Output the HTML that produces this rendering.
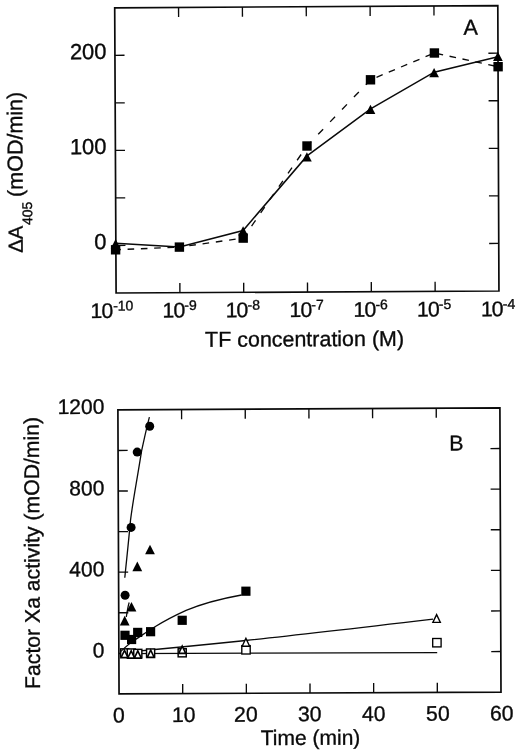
<!DOCTYPE html>
<html lang="en"><head><meta charset="utf-8"><title>Figure</title>
<style>
html,body{margin:0;padding:0;background:#fff;}
body{width:520px;height:753px;overflow:hidden;}
svg{display:block;}
svg text{font-family:"Liberation Sans",sans-serif;fill:#0a0a0a;}
</style></head><body>
<svg width="520" height="753" viewBox="0 0 520 753" stroke="#000" stroke-linecap="butt">
<rect x="0" y="0" width="520" height="753" fill="#fff" stroke="none"/>
<g stroke="#0a0a0a">
<polygon points="114.7,7.8 497.8,5.6 498.95,291 116.1,293" fill="none" stroke-width="1.7" stroke-linejoin="miter"/>
<line x1="178.55" y1="7.43" x2="178.6" y2="17.03" stroke-width="1.35" />
<line x1="179.91" y1="292.67" x2="179.86" y2="283.07" stroke-width="1.35" />
<line x1="242.4" y1="7.07" x2="242.44" y2="16.67" stroke-width="1.35" />
<line x1="243.72" y1="292.33" x2="243.67" y2="282.73" stroke-width="1.35" />
<line x1="306.25" y1="6.7" x2="306.29" y2="16.3" stroke-width="1.35" />
<line x1="307.52" y1="292" x2="307.48" y2="282.4" stroke-width="1.35" />
<line x1="370.1" y1="6.33" x2="370.14" y2="15.94" stroke-width="1.35" />
<line x1="371.33" y1="291.67" x2="371.29" y2="282.06" stroke-width="1.35" />
<line x1="433.95" y1="5.97" x2="433.99" y2="15.57" stroke-width="1.35" />
<line x1="435.14" y1="291.33" x2="435.1" y2="281.73" stroke-width="1.35" />
<line x1="114.93" y1="55.33" x2="124.53" y2="55.28" stroke-width="1.35" />
<line x1="497.99" y1="53.17" x2="488.39" y2="53.22" stroke-width="1.35" />
<line x1="115.17" y1="102.87" x2="124.76" y2="102.81" stroke-width="1.35" />
<line x1="498.18" y1="100.73" x2="488.59" y2="100.79" stroke-width="1.35" />
<line x1="115.4" y1="150.4" x2="125" y2="150.35" stroke-width="1.35" />
<line x1="498.38" y1="148.3" x2="488.78" y2="148.35" stroke-width="1.35" />
<line x1="115.63" y1="197.93" x2="125.23" y2="197.88" stroke-width="1.35" />
<line x1="498.57" y1="195.87" x2="488.97" y2="195.92" stroke-width="1.35" />
<line x1="115.87" y1="245.47" x2="125.46" y2="245.42" stroke-width="1.35" />
<line x1="498.76" y1="243.43" x2="489.16" y2="243.48" stroke-width="1.35" />
<polyline fill="none" stroke-width="1.5" points="115.6,243.3 179.5,247 243.1,230.5 307,155.9 370.6,108.8 434.2,72.2 497.9,56.8"/>
<line x1="115.6" y1="249.8" x2="179.4" y2="247.1" stroke-width="1.35" stroke-dasharray="6.6 6.7" stroke-dashoffset="1.3"/>
<line x1="179.4" y1="247.1" x2="243.2" y2="238.1" stroke-width="1.35" stroke-dasharray="6.6 6.8" stroke-dashoffset="3.4"/>
<line x1="243.2" y1="238.1" x2="307" y2="146" stroke-width="1.35" stroke-dasharray="7 9" stroke-dashoffset="1.3"/>
<line x1="307" y1="146" x2="370.5" y2="79.8" stroke-width="1.35" stroke-dasharray="7.1 10.1" stroke-dashoffset="1.0"/>
<line x1="370.5" y1="79.8" x2="434.4" y2="53" stroke-width="1.35" stroke-dasharray="6.7 6.6" stroke-dashoffset="6.8"/>
<line x1="434.4" y1="53" x2="498.1" y2="66.7" stroke-width="1.35" stroke-dasharray="6.6 6.6" stroke-dashoffset="10.9"/>
<polygon points="115.6,239.1 120.45,248.4 110.75,248.4" fill="#000" stroke="none"/>
<polygon points="243.1,226.25 247.95,235.55 238.25,235.55" fill="#000" stroke="none"/>
<polygon points="306.9,152.3 311.75,161.6 302.05,161.6" fill="#000" stroke="none"/>
<polygon points="370.5,104.7 375.35,114 365.65,114" fill="#000" stroke="none"/>
<polygon points="434.1,67.9 438.95,77.2 429.25,77.2" fill="#000" stroke="none"/>
<polygon points="497.9,51.7 502.75,61 493.05,61" fill="#000" stroke="none"/>
<rect x="110.9" y="245.1" width="9.4" height="9.4" fill="#000" stroke="none"/>
<rect x="174.7" y="242.4" width="9.4" height="9.4" fill="#000" stroke="none"/>
<rect x="238.5" y="233.4" width="9.4" height="9.4" fill="#000" stroke="none"/>
<rect x="302.3" y="141.3" width="9.4" height="9.4" fill="#000" stroke="none"/>
<rect x="365.8" y="75.1" width="9.4" height="9.4" fill="#000" stroke="none"/>
<rect x="429.7" y="48.3" width="9.4" height="9.4" fill="#000" stroke="none"/>
<rect x="493.4" y="62" width="9.4" height="9.4" fill="#000" stroke="none"/>
<text stroke="#0a0a0a" stroke-width="0.35" x="106.6" y="59" font-size="22" text-anchor="end" transform="rotate(-0.3 106.6 59)" >200</text>
<text stroke="#0a0a0a" stroke-width="0.35" x="106.6" y="154" font-size="22" text-anchor="end" transform="rotate(-0.3 106.6 154)" >100</text>
<text stroke="#0a0a0a" stroke-width="0.35" x="106.6" y="249.3" font-size="22" text-anchor="end" transform="rotate(-0.3 106.6 249.3)" >0</text>
<text stroke="#0a0a0a" stroke-width="0.35" x="90.5" y="318.1" font-size="21.2" text-anchor="start" transform="rotate(-0.3 90.5 318.1)" ><tspan letter-spacing="-0.9">10</tspan><tspan font-size="14" dy="-7.4" dx="0.9">-10</tspan></text>
<text stroke="#0a0a0a" stroke-width="0.35" x="162.5" y="317.6" font-size="21.2" text-anchor="start" transform="rotate(-0.3 162.5 317.6)" ><tspan letter-spacing="-0.9">10</tspan><tspan font-size="14" dy="-7.4" dx="0.1">-9</tspan></text>
<text stroke="#0a0a0a" stroke-width="0.35" x="225.7" y="317.2" font-size="21.2" text-anchor="start" transform="rotate(-0.3 225.7 317.2)" ><tspan letter-spacing="-0.9">10</tspan><tspan font-size="14" dy="-7.4" dx="0.1">-8</tspan></text>
<text stroke="#0a0a0a" stroke-width="0.35" x="289.5" y="317" font-size="21.2" text-anchor="start" transform="rotate(-0.3 289.5 317)" ><tspan letter-spacing="-0.9">10</tspan><tspan font-size="14" dy="-7.4" dx="0.1">-7</tspan></text>
<text stroke="#0a0a0a" stroke-width="0.35" x="353.6" y="316.8" font-size="21.2" text-anchor="start" transform="rotate(-0.3 353.6 316.8)" ><tspan letter-spacing="-0.9">10</tspan><tspan font-size="14" dy="-7.4" dx="0.1">-6</tspan></text>
<text stroke="#0a0a0a" stroke-width="0.35" x="417" y="316.5" font-size="21.2" text-anchor="start" transform="rotate(-0.3 417 316.5)" ><tspan letter-spacing="-0.9">10</tspan><tspan font-size="14" dy="-7.4" dx="0.1">-5</tspan></text>
<text stroke="#0a0a0a" stroke-width="0.35" x="480.9" y="316.2" font-size="21.2" text-anchor="start" transform="rotate(-0.3 480.9 316.2)" ><tspan letter-spacing="-0.9">10</tspan><tspan font-size="14" dy="-7.4" dx="0.1">-4</tspan></text>
<text stroke="#0a0a0a" stroke-width="0.35" x="205.1" y="346.8" font-size="21.45" text-anchor="start" transform="rotate(-0.3 205.1 346.8)" >TF concentration (M)</text>
<text stroke="#0a0a0a" stroke-width="0.35" x="463.5" y="34.8" font-size="21.6" text-anchor="start" transform="rotate(-0.3 463.5 34.8)" >A</text>
<text stroke="#0a0a0a" stroke-width="0.35" x="22.7" y="252.8" font-size="20.4" transform="rotate(-90.3 22.7 252.8)">ΔA</text>
<text stroke="#0a0a0a" stroke-width="0.35" x="32.2" y="225.1" font-size="14.0" transform="rotate(-90.3 32.2 225.1)">405</text>
<text stroke="#0a0a0a" stroke-width="0.35" x="22.7" y="196.9" font-size="21.5" transform="rotate(-90.3 22.7 196.9)">(mOD/min)</text>
<polygon points="117.9,409.9 499.9,407.9 501,692.1 119.05,693.9" fill="none" stroke-width="1.7" stroke-linejoin="miter"/>
<line x1="181.57" y1="409.57" x2="181.61" y2="419.17" stroke-width="1.35" />
<line x1="182.71" y1="693.6" x2="182.67" y2="684" stroke-width="1.35" />
<line x1="245.23" y1="409.23" x2="245.27" y2="418.84" stroke-width="1.35" />
<line x1="246.37" y1="693.3" x2="246.33" y2="683.7" stroke-width="1.35" />
<line x1="308.9" y1="408.9" x2="308.94" y2="418.5" stroke-width="1.35" />
<line x1="310.02" y1="693" x2="309.99" y2="683.4" stroke-width="1.35" />
<line x1="372.57" y1="408.57" x2="372.6" y2="418.17" stroke-width="1.35" />
<line x1="373.68" y1="692.7" x2="373.65" y2="683.1" stroke-width="1.35" />
<line x1="436.23" y1="408.23" x2="436.27" y2="417.84" stroke-width="1.35" />
<line x1="437.34" y1="692.4" x2="437.3" y2="682.79" stroke-width="1.35" />
<line x1="118.06" y1="450.47" x2="127.66" y2="450.42" stroke-width="1.35" />
<line x1="500.06" y1="448.5" x2="490.46" y2="448.55" stroke-width="1.35" />
<line x1="118.23" y1="491.04" x2="127.83" y2="490.99" stroke-width="1.35" />
<line x1="500.21" y1="489.1" x2="490.61" y2="489.15" stroke-width="1.35" />
<line x1="118.39" y1="531.61" x2="127.99" y2="531.57" stroke-width="1.35" />
<line x1="500.37" y1="529.7" x2="490.77" y2="529.75" stroke-width="1.35" />
<line x1="118.56" y1="572.19" x2="128.16" y2="572.14" stroke-width="1.35" />
<line x1="500.53" y1="570.3" x2="490.93" y2="570.35" stroke-width="1.35" />
<line x1="118.72" y1="612.76" x2="128.32" y2="612.71" stroke-width="1.35" />
<line x1="500.69" y1="610.9" x2="491.09" y2="610.95" stroke-width="1.35" />
<line x1="118.89" y1="653.33" x2="128.48" y2="653.28" stroke-width="1.35" />
<line x1="500.84" y1="651.5" x2="491.24" y2="651.55" stroke-width="1.35" />
<path fill="none" stroke-width="1.3" d="M124.8,577.7 C126.5,560 128,548 130.5,520.4 C133,500 136,486 141.6,450.8 C144,440 146.5,428 149.4,417.1"/>
<path fill="none" stroke-width="1.3" d="M126.3,617 C127.4,610 128.6,604 129.2,602.5 130.2,599.2 C133,589 136,578 140.3,566.9 C143,560 146,554 149.8,548"/>
<path fill="none" stroke-width="1.3" d="M122,652.6 Q190,646.3 245.9,640.5 T433.1,619.2"/>
<path fill="none" stroke-width="1.3" d="M119,653.6 L437.2,652.6"/>
<circle cx="149.7" cy="426.3" r="4.5" fill="#000" stroke="none"/>
<circle cx="137.2" cy="452.1" r="4.5" fill="#000" stroke="none"/>
<circle cx="131.1" cy="527.4" r="4.5" fill="#000" stroke="none"/>
<circle cx="125.1" cy="595.2" r="4.5" fill="#000" stroke="none"/>
<polygon points="150,544.7 154.9,554.3 145.1,554.3" fill="#000" stroke="none"/>
<polygon points="137.3,561.6 142.2,571.2 132.4,571.2" fill="#000" stroke="none"/>
<polygon points="131.5,602 136.4,611.6 126.6,611.6" fill="#000" stroke="none"/>
<polygon points="124.7,615.8 129.6,625.4 119.8,625.4" fill="#000" stroke="none"/>
<rect x="120.65" y="648.85" width="8.1" height="8.1" fill="#fff" stroke="#000" stroke-width="1.45"/>
<rect x="127.25" y="648.95" width="8.1" height="8.1" fill="#fff" stroke="#000" stroke-width="1.45"/>
<rect x="133.75" y="649.35" width="8.1" height="8.1" fill="#fff" stroke="#000" stroke-width="1.45"/>
<rect x="146.55" y="648.95" width="8.1" height="8.1" fill="#fff" stroke="#000" stroke-width="1.45"/>
<rect x="178.15" y="648.75" width="8.1" height="8.1" fill="#fff" stroke="#000" stroke-width="1.45"/>
<rect x="241.8" y="645.6" width="8.4" height="8.4" fill="#fff" stroke="#000" stroke-width="1.35"/>
<rect x="432.7" y="638.5" width="8.4" height="8.4" fill="#fff" stroke="#000" stroke-width="1.35"/>
<polygon points="124.5,650.3 128,657.6 121,657.6" fill="#fff" stroke="#000" stroke-width="1.6" stroke-linejoin="miter"/>
<polygon points="131.2,650.8 134.7,658.1 127.7,658.1" fill="#fff" stroke="#000" stroke-width="1.6" stroke-linejoin="miter"/>
<polygon points="137.8,650.8 141.3,658.1 134.3,658.1" fill="#fff" stroke="#000" stroke-width="1.6" stroke-linejoin="miter"/>
<polygon points="150.7,650.1 154.2,657.4 147.2,657.4" fill="#fff" stroke="#000" stroke-width="1.6" stroke-linejoin="miter"/>
<polygon points="182.2,646.1 185.7,653.4 178.7,653.4" fill="#fff" stroke="#000" stroke-width="1.6" stroke-linejoin="miter"/>
<polygon points="245.9,638.4 249.65,646.2 242.15,646.2" fill="#fff" stroke="#000" stroke-width="1.35" stroke-linejoin="miter"/>
<polygon points="436.6,614.6 440.35,622.4 432.85,622.4" fill="#fff" stroke="#000" stroke-width="1.35" stroke-linejoin="miter"/>
<path fill="none" stroke-width="1.3" d="M120.6,651.6 C126,646.5 130,643 134,640.5 C141,636 148,631 155,626.8 C165,620.5 176,615 186.1,610.4 C205,602.5 222,598.5 241.5,595"/>
<rect x="120.4" y="630.7" width="9.2" height="9.2" fill="#000" stroke="none"/>
<rect x="127" y="634.9" width="9.2" height="9.2" fill="#000" stroke="none"/>
<rect x="133.1" y="627.8" width="9.2" height="9.2" fill="#000" stroke="none"/>
<rect x="146" y="627.1" width="9.2" height="9.2" fill="#000" stroke="none"/>
<rect x="177.6" y="615.7" width="9.2" height="9.2" fill="#000" stroke="none"/>
<rect x="241.3" y="586.6" width="9.2" height="9.2" fill="#000" stroke="none"/>
<text stroke="#0a0a0a" stroke-width="0.35" x="104.4" y="413.8" font-size="21.0" text-anchor="end" transform="rotate(-0.3 104.4 413.8)" >1200</text>
<text stroke="#0a0a0a" stroke-width="0.35" x="104.4" y="495.3" font-size="21.0" text-anchor="end" transform="rotate(-0.3 104.4 495.3)" >800</text>
<text stroke="#0a0a0a" stroke-width="0.35" x="104.4" y="576.3" font-size="21.0" text-anchor="end" transform="rotate(-0.3 104.4 576.3)" >400</text>
<text stroke="#0a0a0a" stroke-width="0.35" x="104.4" y="657.5" font-size="21.0" text-anchor="end" transform="rotate(-0.3 104.4 657.5)" >0</text>
<text stroke="#0a0a0a" stroke-width="0.35" x="118.9" y="722.4" font-size="21.2" text-anchor="middle" transform="rotate(-0.3 118.9 722.4)" >0</text>
<text stroke="#0a0a0a" stroke-width="0.35" x="183.8" y="722" font-size="21.2" text-anchor="middle" transform="rotate(-0.3 183.8 722)" >10</text>
<text stroke="#0a0a0a" stroke-width="0.35" x="245.9" y="721.6" font-size="21.2" text-anchor="middle" transform="rotate(-0.3 245.9 721.6)" >20</text>
<text stroke="#0a0a0a" stroke-width="0.35" x="309.8" y="721.2" font-size="21.2" text-anchor="middle" transform="rotate(-0.3 309.8 721.2)" >30</text>
<text stroke="#0a0a0a" stroke-width="0.35" x="373.8" y="720.9" font-size="21.2" text-anchor="middle" transform="rotate(-0.3 373.8 720.9)" >40</text>
<text stroke="#0a0a0a" stroke-width="0.35" x="437.9" y="720.7" font-size="21.2" text-anchor="middle" transform="rotate(-0.3 437.9 720.7)" >50</text>
<text stroke="#0a0a0a" stroke-width="0.35" x="501.8" y="720.5" font-size="21.2" text-anchor="middle" transform="rotate(-0.3 501.8 720.5)" >60</text>
<text stroke="#0a0a0a" stroke-width="0.35" x="260.8" y="745.1" font-size="21.0" text-anchor="start" transform="rotate(-0.3 260.8 745.1)" >Time (min)</text>
<text stroke="#0a0a0a" stroke-width="0.35" x="449.3" y="450.6" font-size="21.4" text-anchor="start" transform="rotate(-0.3 449.3 450.6)" >B</text>
<text stroke="#0a0a0a" stroke-width="0.35" x="40.1" y="688.9" font-size="21.2" transform="rotate(-90.3 40.1 688.9)">Factor Xa activity (mOD/min)</text>
</g>
</svg>
</body></html>
